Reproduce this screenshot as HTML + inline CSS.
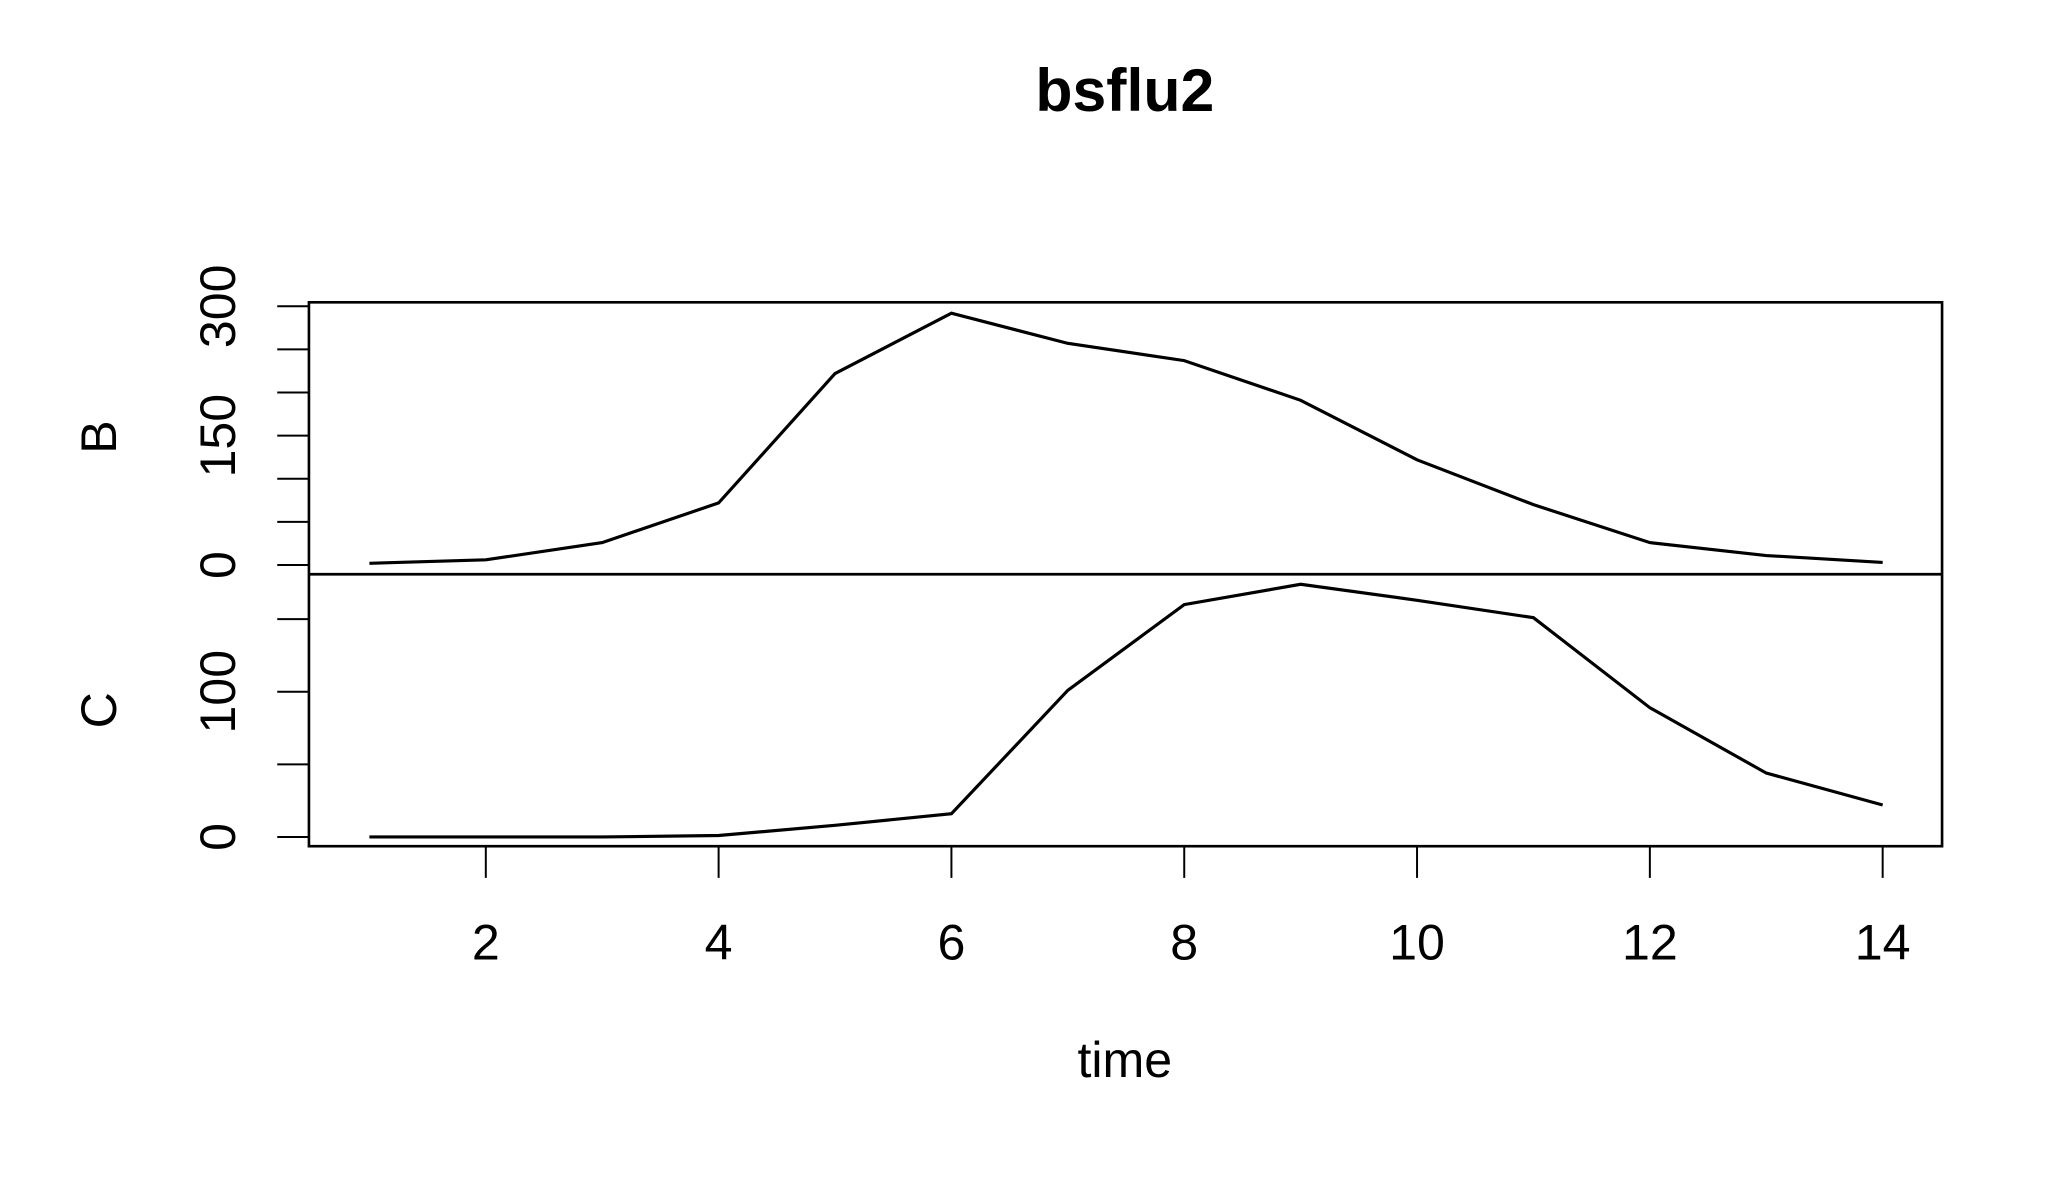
<!DOCTYPE html>
<html><head><meta charset="utf-8"><style>
html,body{margin:0;padding:0;background:#fff;}
svg{display:block;font-family:"Liberation Sans",Arial,sans-serif;}
</style></head><body>
<svg id="chart" width="2049" height="1200" viewBox="0 0 1552 909" preserveAspectRatio="none" xmlns="http://www.w3.org/2000/svg">
<rect width="1552" height="909" fill="#fff"/>
<text x="852" y="84" text-anchor="middle" font-size="46" font-weight="bold">bsflu2</text>
<text x="852" y="816" text-anchor="middle" font-size="38">time</text>
<text transform="translate(88,331) rotate(-90)" text-anchor="middle" font-size="38">B</text>
<text transform="translate(88,538) rotate(-90)" text-anchor="middle" font-size="38">C</text>
<g id="g"></g>
</svg>
<script>
const times = [1,2,3,4,5,6,7,8,9,10,11,12,13,14];
const seriesB = [2,6,26,72,222,292,257,237,191,122,70,26,11,3];
const seriesC = [0,0,0,1,8,16,101,160,174,163,151,89,44,22];
const xTicks = [2,4,6,8,10,12,14];
const bTicks = [0,50,100,150,200,250,300];
const bLabels = [0,150,300];
const cTicks = [0,50,100,150];
const cLabels = [0,100];

const NS = "http://www.w3.org/2000/svg";
const g = document.getElementById('g');
const L = 234, R = 1471, T = 229, MID = 435, B = 641;
function x(t){ return 279.8 + (t - 1) * 88.17; }
function yB(v){ return 428 - v * 0.6533; }
function yC(v){ return 634 - v * 1.1; }
function mk(tag, attrs){ const e = document.createElementNS(NS, tag); for (const k in attrs) e.setAttribute(k, attrs[k]); g.appendChild(e); return e; }

const box = mk('rect', {x:L, y:T, width:R-L, height:B-T, fill:'none', stroke:'#000', 'stroke-width':2});


const div = mk('line', {x1:L, x2:R, y1:MID, y2:MID, stroke:'#000', 'stroke-width':2});



xTicks.forEach(t => {
  const l = mk('line', {x1:x(t), x2:x(t), y1:B, y2:B+24, stroke:'#000', 'stroke-width':1.5});
  
  
  const tx = mk('text', {x:x(t), y:727, 'text-anchor':'middle', 'font-size':38});
  tx.textContent = t;
  
  
});
function yAxis(ticks, labels, f, name){
  ticks.forEach(v => {
    const l = mk('line', {x1:L-24, x2:L, y1:f(v), y2:f(v), stroke:'#000', 'stroke-width':1.5});
    
    
  });
  labels.forEach(v => {
    const tx = mk('text', {transform:'translate(178,' + f(v) + ') rotate(-90)', 'text-anchor':'middle', 'font-size':38});
    tx.textContent = v;
    
    
  });
}
yAxis(bTicks, bLabels, yB, 'b-axis');
yAxis(cTicks, cLabels, yC, 'c-axis');

const pb = mk('polyline', {points: times.map((t,i) => x(t) + ',' + yB(seriesB[i])).join(' '), fill:'none', stroke:'#000', 'stroke-width':2.4});


const pc = mk('polyline', {points: times.map((t,i) => x(t) + ',' + yC(seriesC[i])).join(' '), fill:'none', stroke:'#000', 'stroke-width':2.4});


</script>
</body></html>
